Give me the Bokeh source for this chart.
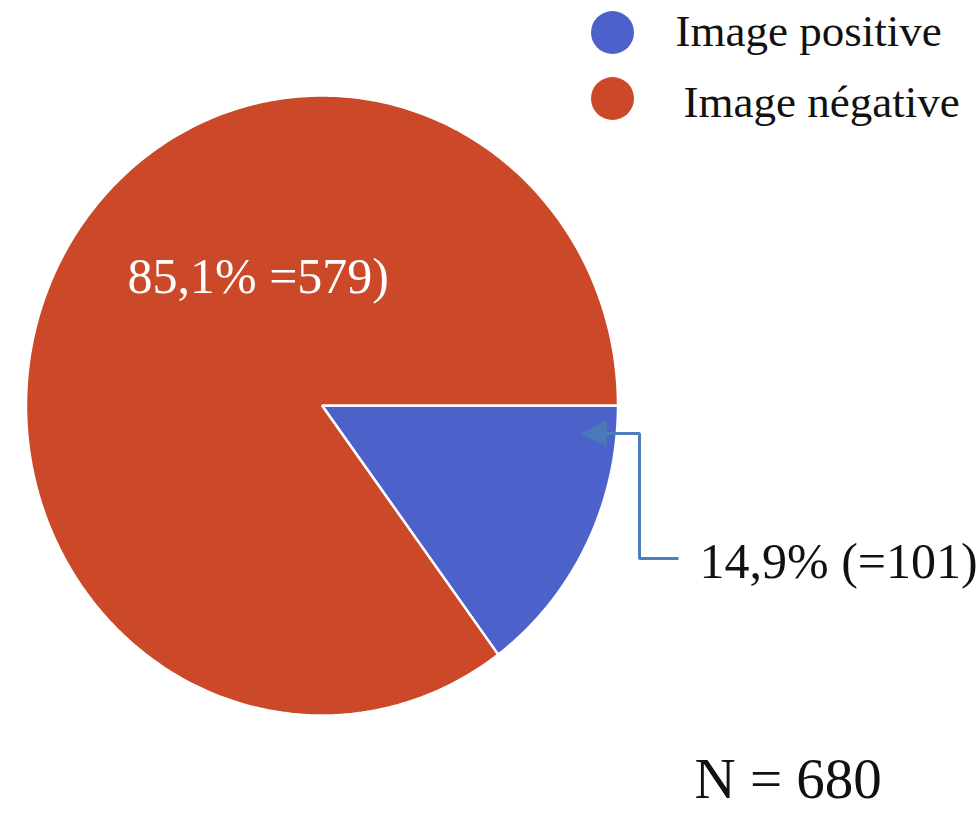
import math
from bokeh.plotting import figure
from bokeh.models import Range1d, Arrow, NormalHead, ColumnDataSource
from bokeh.core.properties import value
from bokeh.embed import file_html
from bokeh.resources import INLINE

# ---- data ----
categories = ["Image positive", "Image négative"]
counts = [101, 579]
slice_labels = ["14,9% (=101)", "85,1% =579)"]
colors = ["#4C61C9", "#CB4829"]
total_label = "N = %d" % sum(counts)

# ---- layout constants (window pixel coordinates) ----
W, H = 980, 813
cx, cy, rx, ry = 321.5, 405.0, 296.0, 310.0
FONT = value("Liberation Serif")

p = figure(width=W, height=H, output_backend="svg", toolbar_location=None,
           x_range=Range1d(0, W), y_range=Range1d(H, 0),
           x_axis_type=None, y_axis_type=None, min_border=0,
           background_fill_color="white", border_fill_color="white")
p.grid.visible = False
p.outline_line_color = None

# pie slices: start at 3 o'clock, go clockwise
tot = float(sum(counts))
xs, ys = [], []
start = 0.0
for c in counts:
    sweep = 2 * math.pi * c / tot
    n = max(8, int(400 * c / tot))
    px, py = [cx], [cy]
    for k in range(n + 1):
        a = start - sweep * k / n
        px.append(cx + rx * math.cos(a))
        py.append(cy - ry * math.sin(a))
    xs.append(px)
    ys.append(py)
    start -= sweep

p.patches(xs=xs, ys=ys, fill_color=colors, line_color="white", line_width=2.5)

# slice labels
p.text(x=[127], y=[275], text=[slice_labels[1]], text_font=FONT,
       text_font_size="50px", text_color="white", text_baseline="alphabetic")
p.text(x=[699], y=[560], text=[slice_labels[0]], text_font=FONT,
       text_font_size="50px", text_color="#111111", text_baseline="alphabetic")

# leader line with arrow
arrow_col = "#4F7EBF"
p.line(x=[678, 639, 639, 604], y=[558, 558, 433, 433], line_color=arrow_col, line_width=3)
p.add_layout(Arrow(end=NormalHead(size=25, fill_color="#4A78B8", line_color="#4A78B8"),
                   x_start=606, y_start=433, x_end=581, y_end=433,
                   line_color=arrow_col, line_width=3))

# legend
leg = ColumnDataSource(dict(
    x=[612] * len(categories),
    y=[32 + 66 * i for i in range(len(categories))],
    tx=[675 + 8 * i for i in range(len(categories))],
    ty=[30 + 71 * i for i in range(len(categories))],
    text=categories, color=colors))
p.scatter(x="x", y="y", size=43, fill_color="color", line_color=None, source=leg)
p.text(x="tx", y="ty", text="text", source=leg, text_font=FONT, text_font_size="45px",
       text_color="#111111", text_baseline="alphabetic")

# total
p.text(x=[694], y=[778], text=[total_label], text_font=FONT, text_font_size="57px",
       text_color="#111111", text_baseline="alphabetic")

open("out.html", "w").write(file_html(p, INLINE))
